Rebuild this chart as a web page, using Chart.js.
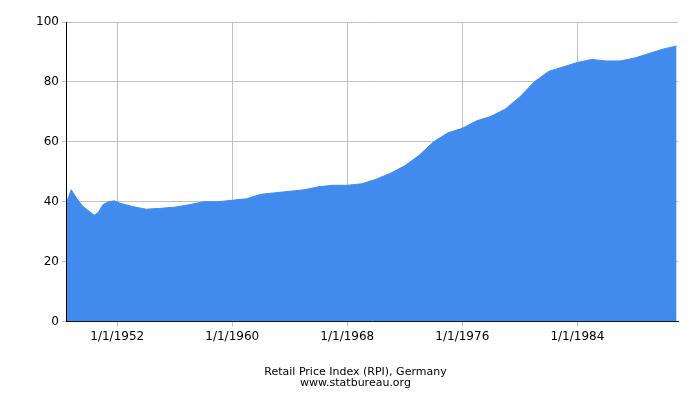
<!DOCTYPE html>
<html><head><script src="https://cdn.jsdelivr.net/npm/chart.js@4"></script>
<style>body{margin:0;background:#fff}#w{width:700px;height:400px}</style></head>
<body><div id="w"><canvas id="c"></canvas></div>
<script>
const years=[1948.5,1948.8,1949.2,1949.6,1950.0,1950.4,1950.7,1951.0,1951.4,1951.8,1952.2,1952.6,1953.0,1953.5,1954.0,1955.0,1956.0,1957.0,1958.0,1959.0,1960.0,1961.0,1962.0,1963.0,1964.0,1965.0,1966.0,1967.0,1968.0,1969.0,1970.0,1971.0,1972.0,1973.0,1974.0,1975.0,1976.0,1977.0,1978.0,1979.0,1980.0,1981.0,1982.0,1983.0,1984.0,1985.0,1986.0,1987.0,1988.0,1989.0,1990.0,1990.9];
const rpi=[40,44,41,38.5,37,35.5,36.5,39,40,40.3,39.5,39,38.5,38,37.5,37.8,38.2,39,40,40,40.5,41,42.5,43,43.5,44,45,45.5,45.5,46,47.5,49.5,52,55.5,60,63,64.5,67,68.5,71,75,80,83.5,85,86.5,87.5,87,87,88,89.5,91,92];
const tickYears=[1952,1960,1968,1976,1984];
new Chart(document.getElementById('c'),{type:'line',
data:{datasets:[{data:years.map((y,i)=>({x:y,y:rpi[i]})),fill:'origin',backgroundColor:'#428bee',borderColor:'#428bee',borderWidth:1,pointRadius:0,tension:0}]},
options:{responsive:true,maintainAspectRatio:false,animation:false,
layout:{padding:{left:33,right:22,top:22,bottom:11}},
plugins:{legend:{display:false},title:{display:true,position:'bottom',text:['Retail Price Index (RPI), Germany','www.statbureau.org'],color:'#000',font:{family:'DejaVu Sans',size:11,weight:'normal',lineHeight:1},padding:{top:20,bottom:0}}},
scales:{x:{type:'linear',min:1948.5,max:1991,afterBuildTicks:a=>{a.ticks=tickYears.map(v=>({value:v}))},ticks:{callback:v=>'1/1/'+v,color:'#000',font:{family:'DejaVu Sans',size:12},maxRotation:0},grid:{color:'#c0c0c0',drawTicks:true,tickLength:5},border:{color:'#000'}},
y:{min:0,max:100,ticks:{stepSize:20,color:'#000',font:{family:'DejaVu Sans',size:12}},grid:{color:'#c0c0c0',tickLength:5},border:{color:'#000'}}}}});
</script></body></html>
